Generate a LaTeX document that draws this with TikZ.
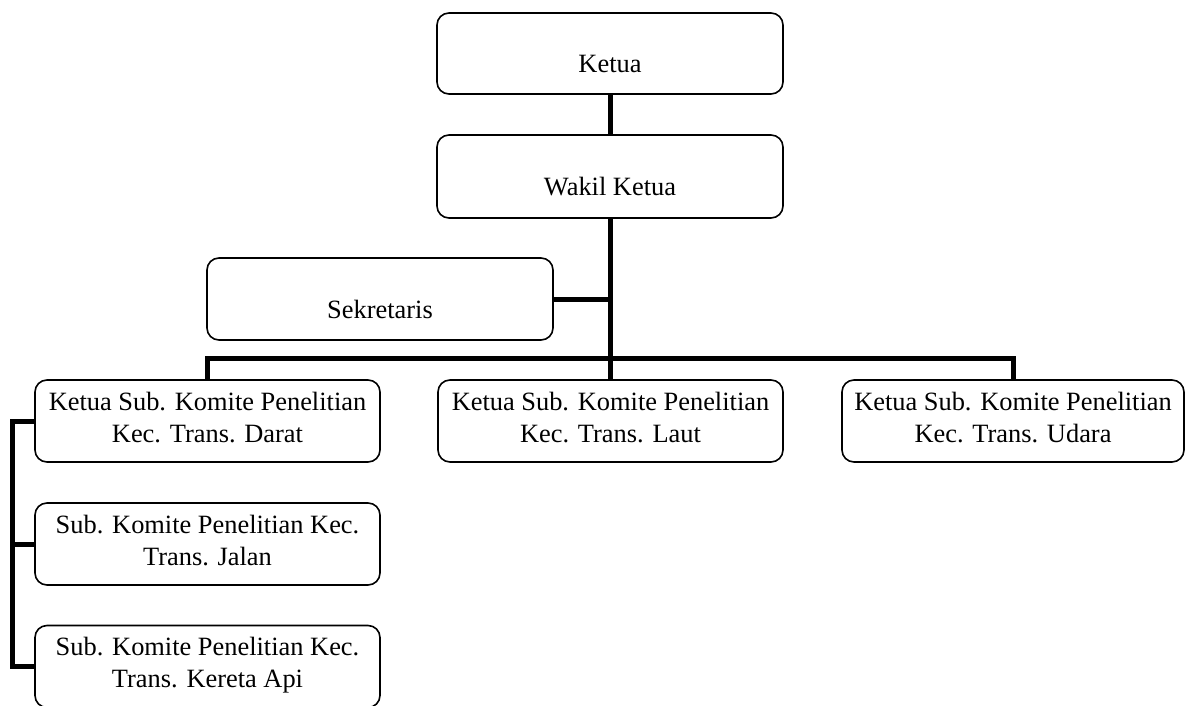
\documentclass[tikz,border=0pt]{standalone}
\usepackage{fontspec}
\setmainfont{Liberation Serif}
\begin{document}
\begin{tikzpicture}[x=1pt,y=-1pt,
  box/.style={draw, line width=1.6pt, rounded corners=12pt, inner sep=0pt,
    minimum width=345pt, minimum height=82pt, align=center,
    font=\fontsize{26.4}{32}\selectfont},
  one/.style={text height=38pt, text depth=0pt},
  two/.style={text height=42pt, text depth=0pt},
  conn/.style={line width=5pt}]
\useasboundingbox (0,0) rectangle (1187,705);
\node[box, one, minimum width=346pt, minimum height=81pt] (ketua) at (610,53.5) {Ketua};
\node[box, one, minimum width=346pt, minimum height=83pt] (wakil) at (610,176.5) {Wakil Ketua};
\node[box, one, minimum width=346pt] (sekr) at (380,299) {Sekretaris};
\node[box, two] (darat) at (207.5,421) {Ketua Sub. Komite Penelitian\\Kec. Trans. Darat};
\node[box, two] (laut) at (610.5,421) {Ketua Sub. Komite Penelitian\\Kec. Trans. Laut};
\node[box, two, minimum width=342pt] (udara) at (1013,421) {Ketua Sub. Komite Penelitian\\Kec. Trans. Udara};
\node[box, two] (jalan) at (207.5,544) {Sub. Komite Penelitian Kec.\\Trans. Jalan};
\node[box, two] (kereta) at (207.5,666.5) {Sub. Komite Penelitian Kec.\\Trans. Kereta Api};
\draw[conn] (ketua.south) -- (wakil.north);
\draw[conn] (wakil.south) -- (wakil.south |- laut.north);
\draw[conn] (sekr.east) -- (sekr.east -| wakil.south);
\draw[conn] (darat.north) -- ++(0,-21) -| (udara.north);
\draw[conn] (darat.west) -- ++(-22,0) |- (kereta.west);
\draw[conn] (jalan.west) -- ++(-22,0);
\end{tikzpicture}
\end{document}
